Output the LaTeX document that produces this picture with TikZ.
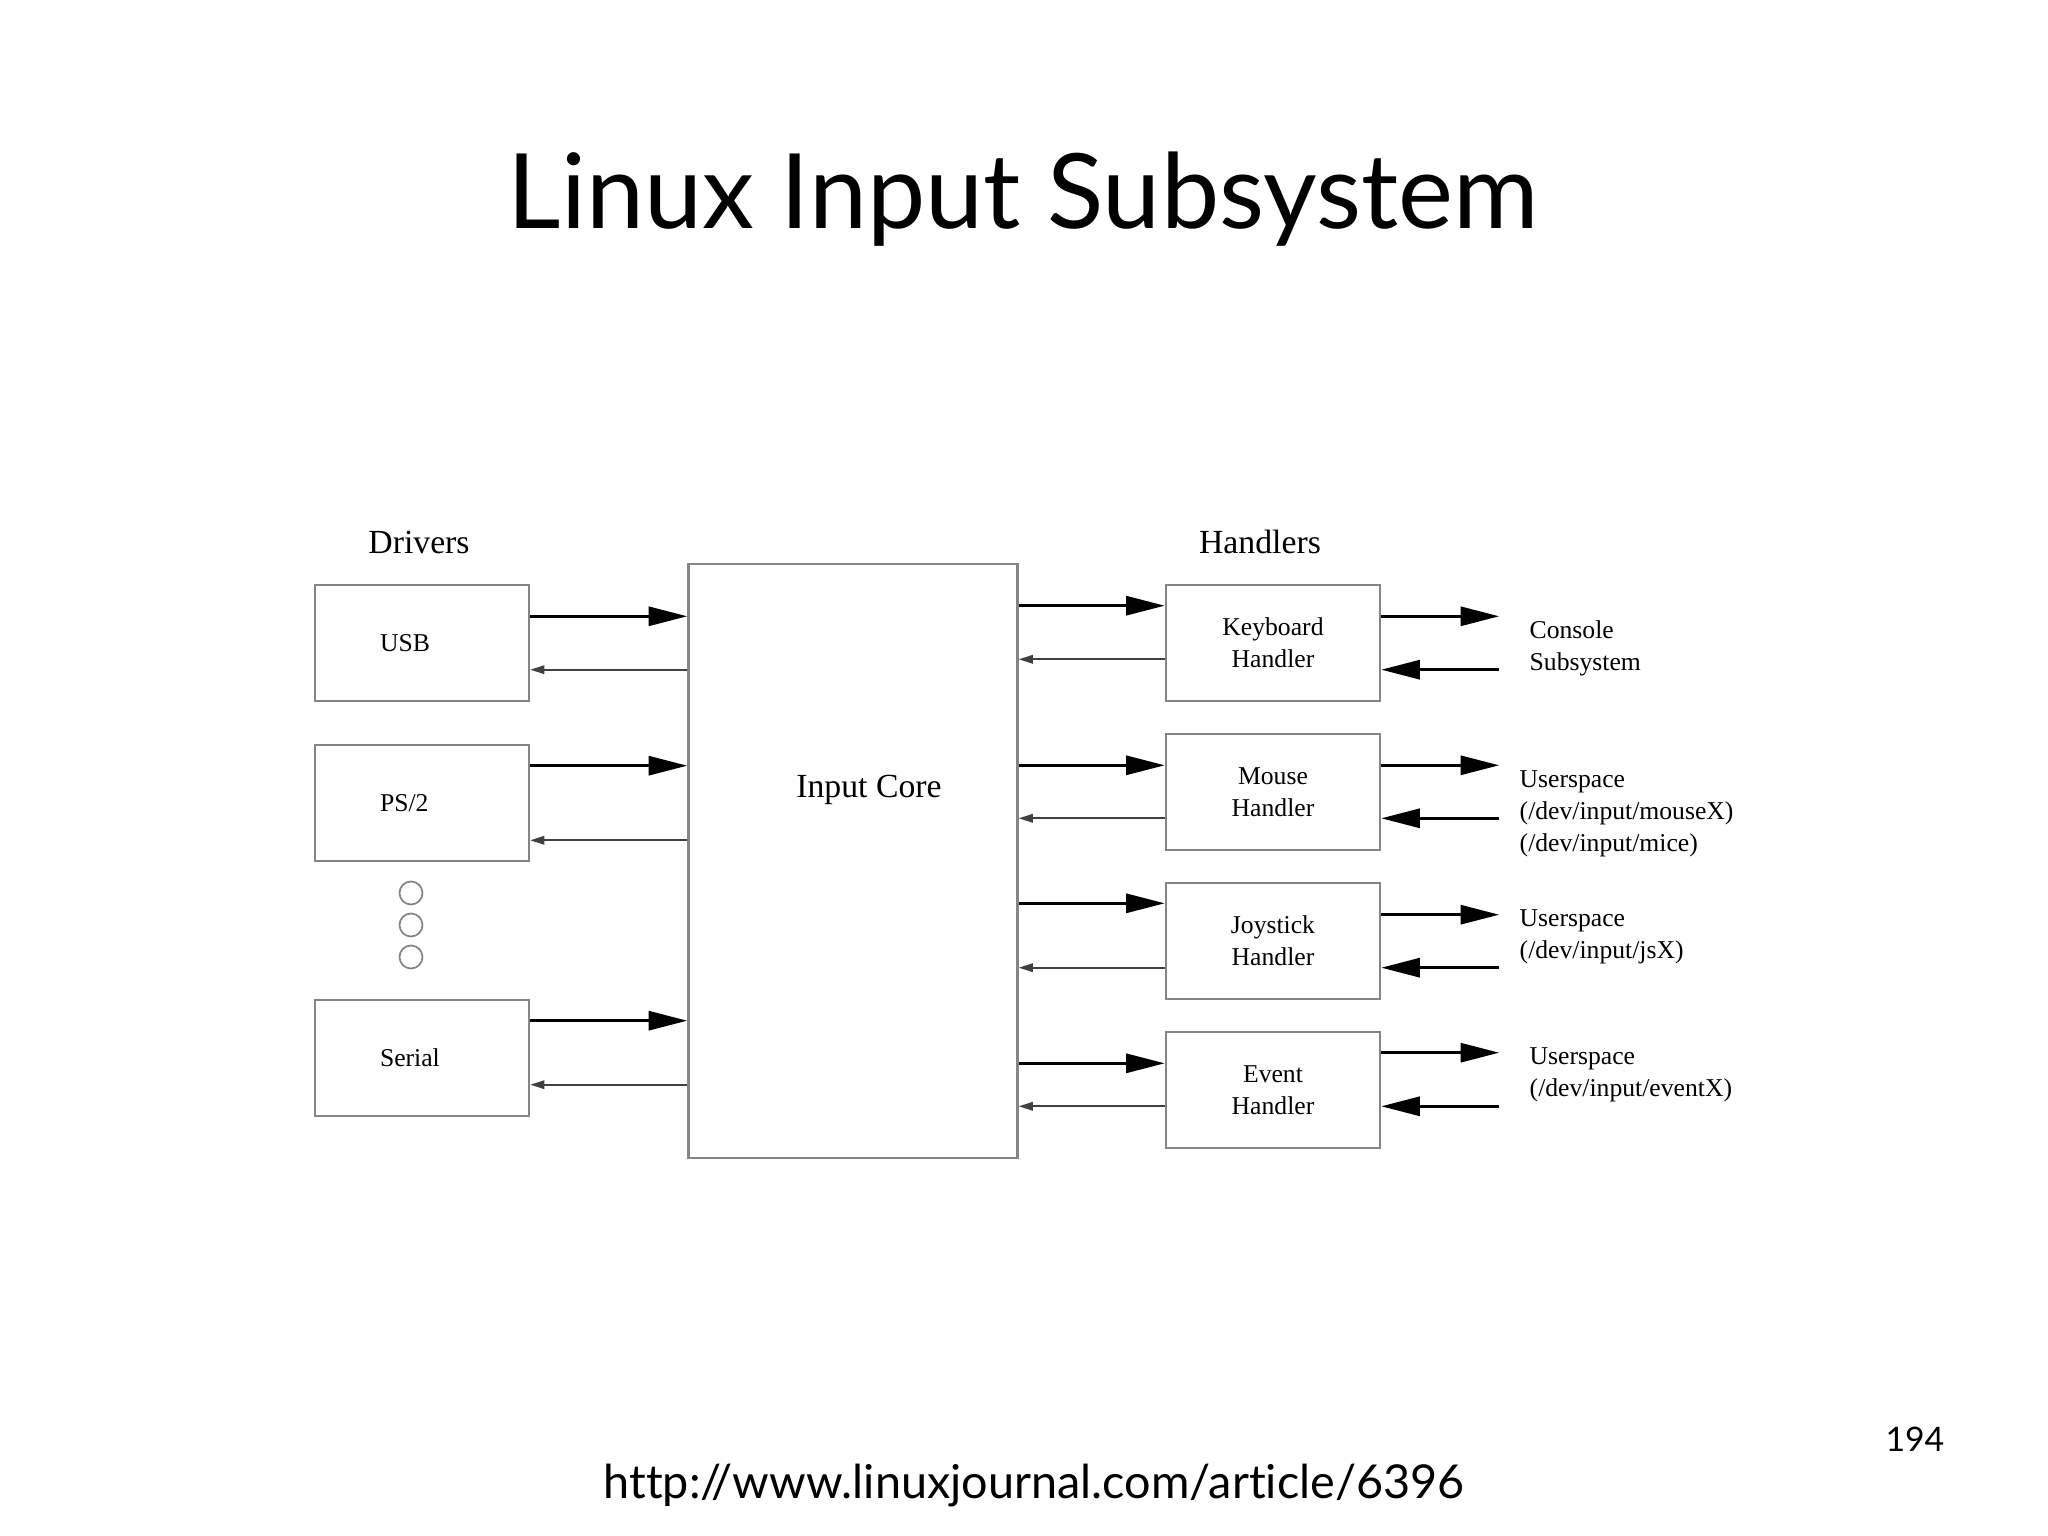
\documentclass[tikz,border=0pt]{standalone}
\usepackage{fontspec}
\setmainfont{Lato}[Ligatures=NoCommon]
\newfontfamily\diagfont{Liberation Serif}
\usetikzlibrary{arrows.meta,positioning,calc}
\definecolor{BoxGray}{HTML}{858585}
\definecolor{LineGray}{HTML}{404040}

\begin{document}
\begin{tikzpicture}[x=1cm,y=1cm,
  every node/.style={align=center},
  box/.style={draw=BoxGray,line width=0.7pt,minimum width=2.14cm,minimum height=1.16cm,
    inner sep=0pt,font=\diagfont\fontsize{7.3}{9.1}\selectfont},
  drvbox/.style={box,text width=0.84cm,align=left},
  hdr/.style={font=\diagfont\fontsize{9.6}{11}\selectfont,inner sep=0pt},
  note/.style={anchor=west,align=left,inner sep=0pt,font=\diagfont\fontsize{7.3}{9.1}\selectfont},
  fwd/.style={-{Triangle[length=11pt,width=5.4pt]},line width=0.9pt},
  back/.style={-{Triangle[length=4pt,width=2.4pt]},line width=0.5pt,draw=LineGray},
  more/.style={draw=BoxGray,line width=0.5pt,circle,minimum size=0.23cm,inner sep=0pt}]
  \useasboundingbox (0,0) rectangle (20.48,-15.36);
  % slide text
  \node[font=\fontsize{29.6}{36}\selectfont,anchor=base,inner sep=0pt] (title) at (10.23,-2.29) {Linux Input Subsystem};
  \node[font=\fontsize{13.3}{16}\selectfont,anchor=base,inner sep=0pt] (url) at (10.34,-14.98) {http://www.linuxjournal.com/article/6396};
  \node[font=\fontsize{9.6}{12}\selectfont,anchor=base east,inner sep=0pt] (pageno) at (19.45,-14.51) {194};
  % drivers
  \node[hdr] (drivers) at (4.19,-5.42) {Drivers};
  \node[drvbox] (usb) at (4.22,-6.43) {USB};
  \node[drvbox] (ps2) at (4.22,-8.03) {PS/2};
  \node[more] (dot1) at (4.11,-8.93) {};
  \node[more] (dot2) at (4.11,-9.25) {};
  \node[more] (dot3) at (4.11,-9.57) {};
  \node[drvbox] (serial) at (4.22,-10.58) {Serial};
  % core
  \node[box,minimum width=3.29cm,minimum height=5.94cm] (core) at (8.53,-8.61) {};
  \node[hdr] (corelbl) at ([xshift=0.16cm,yshift=0.71cm]core.center) {Input Core};
  % handlers
  \node[hdr] (handlers) at (12.60,-5.42) {Handlers};
  \node[box] (kbd) at (12.73,-6.43) {Keyboard\\Handler};
  \node[box] (mouse) at (12.73,-7.92) {Mouse\\Handler};
  \node[box] (joy) at (12.73,-9.41) {Joystick\\Handler};
  \node[box] (evt) at (12.73,-10.90) {Event\\Handler};
  % userspace side
  \node[note] (console) at (15.29,-6.48) {Console\\Subsystem};
  \node[note] (mousedev) at (15.19,-8.14) {Userspace\\(/dev/input/mouseX)\\(/dev/input/mice)};
  \node[note] (joydev) at (15.19,-9.37) {Userspace\\(/dev/input/jsX)};
  \node[note] (evdev) at (15.29,-10.75) {Userspace\\(/dev/input/eventX)};
  % drivers <-> core
  \foreach \drv/\up/\dn in {usb/0.267/-0.267,ps2/0.373/-0.373,serial/0.373/-0.267}{
    \draw[fwd] ($(\drv.east)+(0,\up)$) -- ($(core.west|-\drv.east)+(0,\up)$);
    \draw[back] ($(core.west|-\drv.east)+(0,\dn)$) -- ($(\drv.east)+(0,\dn)$);
  }
  % core <-> handlers <-> userspace
  \foreach \hd/\cu/\cd/\ou/\od in {kbd/0.373/-0.163/0.267/-0.267,mouse/0.267/-0.263/0.267/-0.263,
      joy/0.377/-0.267/0.263/-0.267,evt/0.267/-0.163/0.373/-0.163}{
    \draw[fwd] ($(core.east|-\hd.west)+(0,\cu)$) -- ($(\hd.west)+(0,\cu)$);
    \draw[back] ($(\hd.west)+(0,\cd)$) -- ($(core.east|-\hd.west)+(0,\cd)$);
    \draw[fwd] ($(\hd.east)+(0,\ou)$) -- ($(\hd.east)+(1.18,\ou)$);
    \draw[fwd] ($(\hd.east)+(1.18,\od)$) -- ($(\hd.east)+(0,\od)$);
  }
\end{tikzpicture}
\end{document}
